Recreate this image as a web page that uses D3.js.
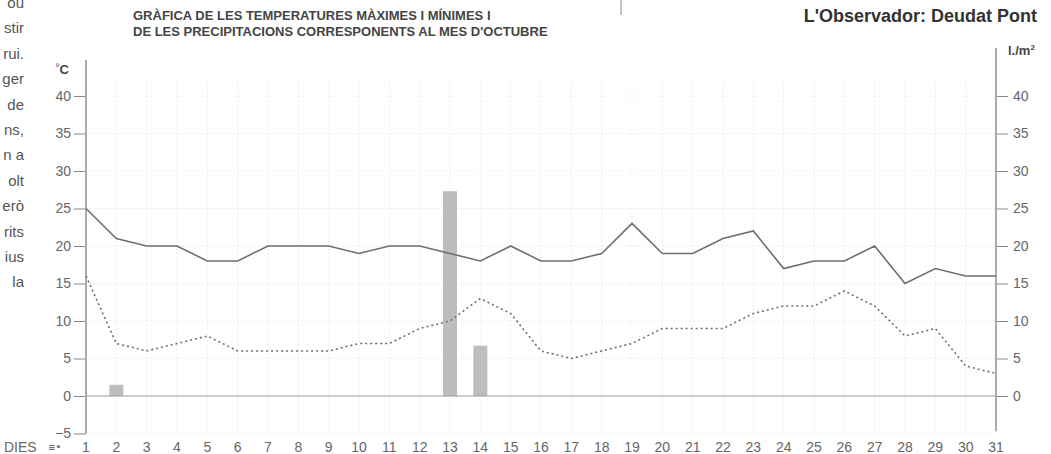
<!DOCTYPE html>
<html>
<head>
<meta charset="utf-8">
<script src="https://cdn.jsdelivr.net/npm/d3@7"></script>
<style>
  body { margin: 0; background: #fff; }
  svg { display: block; }
  text { font-family: "Liberation Sans Narrow", "Liberation Sans", sans-serif; }
</style>
</head>
<body>
<svg id="chart" width="1051" height="454"></svg>
<script>
// dies del mes
const days = d3.range(1, 32);
// temperatures màximes (línia contínua)
const tMax = [25, 21, 20, 20, 18, 18, 20, 20, 20, 19, 20, 20, 19, 18, 20, 18, 18, 19, 23, 19, 19, 21, 22, 17, 18, 18, 20, 15, 17, 16, 16];
// temperatures mínimes (línia de punts)
const tMin = [16, 7, 6, 7, 8, 6, 6, 6, 6, 7, 7, 9, 10, 13, 11, 6, 5, 6, 7, 9, 9, 9, 11, 12, 12, 14, 12, 8, 9, 4, 3];
// precipitacions (l./m²)
const rainDays = [2, 13, 14];
const rainVals = [1.5, 27.3, 6.7];
const yTicks = [-5, 0, 5, 10, 15, 20, 25, 30, 35, 40];
const rightTicks = [0, 5, 10, 15, 20, 25, 30, 35, 40];
// restes del text de la columna del costat
const sideText = ["ou", "stir", "rui.", "ger", "de", "ns,", "n a", "olt", "erò", "rits", "ius", "la"];

const svg = d3.select("#chart");

const x = d3.scaleLinear().domain([1, 31]).range([86, 996]);
const y = d3.scaleLinear().domain([0, 40]).range([396, 96]);

// text lateral (columna retallada)
svg.append("g")
    .selectAll("text")
    .data(sideText)
    .enter().append("text")
    .attr("x", 24)
    .attr("y", (d, i) => 8 + i * 25.4)
    .attr("text-anchor", "end")
    .style("font-size", "15px")
    .style("fill", "#555")
    .text(d => d);

// títol
svg.append("text")
    .attr("x", 133).attr("y", 20)
    .style("font-size", "13px").style("font-weight", "bold")
    .style("fill", "#444")
    .text("GRÀFICA DE LES TEMPERATURES MÀXIMES I MÍNIMES I");
svg.append("text")
    .attr("x", 133).attr("y", 36)
    .style("font-size", "13px").style("font-weight", "bold")
    .style("fill", "#444")
    .text("DE LES PRECIPITACIONS CORRESPONENTS AL MES D'OCTUBRE");
svg.append("line")
    .attr("x1", 621).attr("x2", 621).attr("y1", 0).attr("y2", 15)
    .attr("stroke", "#888").attr("stroke-width", 1);
svg.append("text")
    .attr("x", 1037).attr("y", 22)
    .attr("text-anchor", "end")
    .style("font-size", "18px").style("font-weight", "bold")
    .style("fill", "#333")
    .text("L'Observador: Deudat Pont");

// graella
const grid = svg.append("g").attr("class", "grid");
grid.selectAll("line.v")
    .data(days.slice(1))
    .enter().append("line")
    .attr("x1", d => x(d)).attr("x2", d => x(d))
    .attr("y1", y(42)).attr("y2", y(-5))
    .attr("stroke", "#ddd")
    .attr("stroke-dasharray", "1,3");
grid.selectAll("line.h")
    .data(yTicks.filter(d => d !== 0))
    .enter().append("line")
    .attr("x1", x(1)).attr("x2", x(31))
    .attr("y1", d => y(d)).attr("y2", d => y(d))
    .attr("stroke", "#ddd")
    .attr("stroke-dasharray", "1,3");

// barres de precipitació
const bw = 14;
svg.append("g")
    .selectAll("rect")
    .data(rainDays.map((d, i) => ({ day: d, v: rainVals[i] })))
    .enter().append("rect")
    .attr("x", d => x(d.day) - bw / 2)
    .attr("y", d => y(d.v))
    .attr("width", bw)
    .attr("height", d => y(0) - y(d.v))
    .attr("fill", "#bdbdbd");

// línia del zero
svg.append("line")
    .attr("x1", x(1)).attr("x2", x(31))
    .attr("y1", y(0)).attr("y2", y(0))
    .attr("stroke", "#999").attr("stroke-width", 1.2);

// eixos
const axisL = svg.append("g")
    .attr("transform", `translate(${x(1)},0)`)
    .call(d3.axisLeft(y).tickValues(yTicks).tickSize(12).tickFormat(d => d < 0 ? "\u2212" + Math.abs(d) : d));
axisL.select(".domain").remove();
axisL.append("line")
    .attr("y1", 60).attr("y2", y(-5))
    .attr("stroke", "#aaa").attr("stroke-width", 2);

const axisR = svg.append("g")
    .attr("transform", `translate(${x(31)},0)`)
    .call(d3.axisRight(y).tickValues(rightTicks).tickSize(12));
axisR.select(".domain").remove();
axisR.append("line")
    .attr("y1", 48).attr("y2", y(-4.7))
    .attr("stroke", "#aaa").attr("stroke-width", 2);

svg.selectAll(".tick line").attr("stroke", "#888");
svg.selectAll(".tick text")
    .style("font-size", "14px")
    .style("font-family", "'Liberation Sans Narrow', 'Liberation Sans', sans-serif")
    .style("fill", "#666");
axisL.selectAll(".tick text").attr("x", -15);
axisR.selectAll(".tick text").attr("x", 17);

// unitats
svg.append("text")
    .attr("x", 69).attr("y", 74)
    .attr("text-anchor", "end")
    .style("font-size", "13px").style("font-weight", "bold")
    .style("fill", "#444")
    .html("<tspan style='font-weight:normal;font-size:10px' dy='-3'>°</tspan><tspan dy='3'>C</tspan>");
svg.append("text")
    .attr("x", 1008).attr("y", 55)
    .style("font-size", "13px").style("font-weight", "bold")
    .style("fill", "#444")
    .html("l./m<tspan style='font-size:8px' dy='-5'>2</tspan>");

// línies de temperatura
const lineGen = d3.line().x((d, i) => x(days[i])).y(d => y(d));
svg.append("path")
    .datum(tMax)
    .attr("d", lineGen)
    .attr("fill", "none")
    .attr("stroke", "#6e6e6e")
    .attr("stroke-width", 1.6);
svg.append("path")
    .datum(tMin)
    .attr("d", lineGen)
    .attr("fill", "none")
    .attr("stroke", "#6e6e6e")
    .attr("stroke-width", 1.6)
    .attr("stroke-dasharray", "2,3");

// dies
svg.append("g")
    .selectAll("text")
    .data(days)
    .enter().append("text")
    .attr("x", d => x(d))
    .attr("y", 452)
    .attr("text-anchor", "middle")
    .style("font-size", "14px")
    .style("fill", "#666")
    .text(d => d);
svg.append("text")
    .attr("x", 4).attr("y", 452)
    .style("font-size", "14px")
    .style("fill", "#666")
    .text("DIES");
svg.append("text")
    .attr("x", 48).attr("y", 450)
    .style("font", "bold 9px 'DejaVu Sans', sans-serif")
    .style("fill", "#777")
    .text("≡•");
</script>
</body>
</html>
